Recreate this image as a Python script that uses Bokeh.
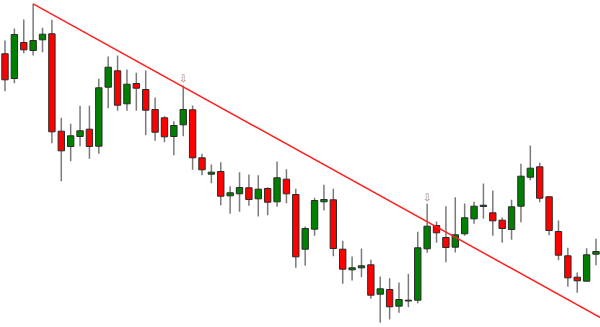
from bokeh.plotting import figure
from bokeh.models import ColumnDataSource, Range1d
from bokeh.core.properties import value
from bokeh.embed import file_html
from bokeh.resources import INLINE

# Candle prices (arbitrary price units)
opens = [276.7, 252.0, 288.0, 280.0, 290.7, 296.7, 199.3, 184.0, 194.0, 201.3,
         184.3, 243.3, 259.7, 226.7, 247.0, 241.0, 221.0, 212.7, 194.0, 205.7,
         220.7, 172.7, 156.3, 159.0, 134.7, 136.7, 142.7, 131.7, 142.0, 128.7,
         151.3, 136.0, 81.3, 101.3, 128.7, 130.7, 81.3, 60.7, 62.7, 65.7,
         36.3, 41.0, 24.3, 29.5, 30.3, 81.7, 105.0, 93.0, 83.3, 96.7,
         111.7, 124.0, 117.7, 110.3, 101.0, 124.3, 153.3, 163.7, 133.7, 99.0,
         74.7, 53.3, 49.3, 76.3]
highs = [290.0, 302.0, 311.0, 326.7, 302.7, 310.7, 212.7, 206.7, 224.7, 224.7,
         251.7, 274.0, 275.0, 261.0, 257.7, 260.0, 233.0, 214.3, 209.3, 245.0,
         225.0, 176.7, 166.0, 168.3, 144.3, 158.3, 156.0, 155.3, 143.3, 169.0,
         161.3, 141.7, 104.0, 132.7, 145.7, 141.7, 89.7, 74.0, 82.0, 70.7,
         54.0, 52.3, 48.0, 56.7, 98.7, 126.7, 109.0, 124.3, 133.3, 127.0,
         128.7, 147.0, 140.0, 113.0, 130.7, 166.7, 185.0, 167.7, 134.0, 110.0,
         82.7, 58.0, 82.3, 91.7]
lows = [239.3, 247.3, 277.3, 275.0, 278.3, 187.3, 149.3, 169.3, 184.3, 171.7,
        176.7, 222.3, 219.7, 219.7, 219.7, 195.3, 189.7, 188.3, 175.3, 194.3,
        160.7, 155.3, 147.3, 125.3, 116.7, 118.7, 124.7, 114.0, 115.3, 123.7,
        127.3, 62.7, 64.7, 94.7, 120.0, 74.3, 46.7, 50.0, 53.3, 31.7,
        7.7, 11.0, 17.7, 23.3, 27.3, 77.7, 87.7, 68.3, 78.0, 94.7,
        106.7, 111.7, 94.7, 87.7, 90.7, 108.3, 150.3, 128.3, 95.3, 70.3,
        43.7, 37.7, 52.3, 65.3]
closes = [250.7, 296.0, 280.7, 290.0, 296.3, 198.7, 179.7, 194.7, 199.7, 184.0,
          242.7, 263.3, 225.3, 246.3, 242.3, 220.3, 198.3, 193.7, 205.0, 221.0,
          172.7, 160.7, 158.3, 134.3, 137.7, 143.0, 131.0, 141.3, 128.3, 152.7,
          136.7, 73.7, 102.0, 130.0, 131.0, 82.0, 61.3, 62.7, 64.7, 35.3,
          41.7, 23.7, 31.0, 30.3, 82.7, 104.3, 97.7, 83.0, 95.7, 112.7,
          124.3, 125.3, 109.7, 102.0, 123.7, 154.3, 162.3, 132.3, 100.0, 75.3,
          52.7, 49.7, 75.7, 79.0]

# Trendline anchors (bar index, price)
trend_x = [3, 63.5]
trend_y = [326.7, 12.8]

# Arrow markers (bar index, price)
arrow_x = [19, 45]
arrow_y = [252.5, 133.3]

n = len(opens)
idx = list(range(n))
up = [c >= o for o, c in zip(opens, closes)]
src = ColumnDataSource(dict(
    x=idx,
    top=[max(o, c) for o, c in zip(opens, closes)],
    bottom=[min(o, c) for o, c in zip(opens, closes)],
    high=highs,
    low=lows,
    color=["#008000" if u else "#ff0000" for u in up],
))

p = figure(width=600, height=327, output_backend="svg", toolbar_location=None,
           x_range=Range1d(-0.48, 63.48), y_range=Range1d(3, 330),
           min_border=0, min_border_left=0, min_border_right=0,
           min_border_top=0, min_border_bottom=0)
p.axis.visible = False
p.grid.visible = False
p.outline_line_color = None
p.background_fill_color = "white"
p.border_fill_color = "white"

p.segment(x0="x", y0="high", x1="x", y1="low", source=src,
          line_color="#7a7a7a", line_width=1.5)
p.vbar(x="x", top="top", bottom="bottom", width=0.68, source=src,
       fill_color="color", line_color="#2a2a2a", line_width=1)

p.line(trend_x, trend_y, line_color="#ff2020", line_width=1.5)

p.text(x=arrow_x, y=arrow_y, text=["⇩", "⇩"], text_align="center",
       text_baseline="middle", text_font_size="10px",
       text_font=value("DejaVu Sans"), text_color="#b07a40")

open("out.html", "w").write(file_html(p, INLINE))
